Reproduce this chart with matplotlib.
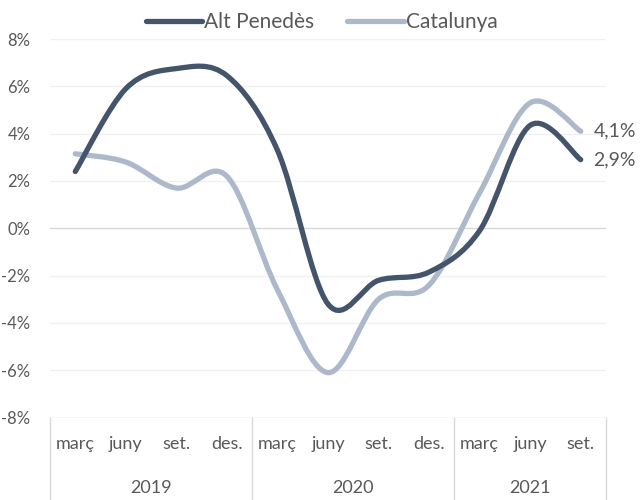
import numpy as np
import matplotlib.pyplot as plt
from matplotlib.path import Path
import matplotlib.patches as mpatches
import matplotlib.lines as mlines

# data (% change)
months = ["març", "juny", "set.", "des.", "març", "juny", "set.", "des.", "març", "juny", "set."]
years = ["2019", "2020", "2021"]
year_sizes = [4, 4, 3]
alt_penedes = [2.4, 5.9, 6.75, 6.45, 3.3, -3.2, -2.2, -1.85, -0.1, 4.35, 2.9]
catalunya = [3.15, 2.8, 1.7, 2.2, -2.6, -6.1, -3.0, -2.4, 1.5, 5.3, 4.1]
end_labels = ["2,9%", "4,1%"]

DARK = "#44546A"
LIGHT = "#ADB9CA"
TXT = "#595959"
FONT = "Lato"


def smooth_path(x, y, k=1/6):
    # Excel-like smoothed line: cubic Bezier through every point
    x = np.asarray(x, float)
    y = np.asarray(y, float)
    n = len(x)
    verts = [(x[0], y[0])]
    codes = [Path.MOVETO]
    for i in range(n - 1):
        i0 = max(i - 1, 0)
        i3 = min(i + 2, n - 1)
        c1 = (x[i] + (x[i + 1] - x[i0]) * k, y[i] + (y[i + 1] - y[i0]) * k)
        c2 = (x[i + 1] - (x[i3] - x[i]) * k, y[i + 1] - (y[i3] - y[i]) * k)
        verts += [c1, c2, (x[i + 1], y[i + 1])]
        codes += [Path.CURVE4] * 3
    return Path(verts, codes)


fig = plt.figure(figsize=(6.43, 5.0), dpi=100)
ax = fig.add_axes([50 / 643, 1 - 417.6 / 500, 556 / 643, (417.6 - 39) / 500])

xs = np.arange(len(months))
ax.set_xlim(-0.5, len(months) - 0.5)
ax.set_ylim(-8, 8)

# gridlines
for v in range(-8, 9, 2):
    ax.axhline(v, color="#D9D9D9" if v in (0, -8) else "#F0F0F0", lw=1.0, zorder=1)

for vals, col in [(catalunya, LIGHT), (alt_penedes, DARK)]:
    p = mpatches.PathPatch(smooth_path(xs, vals), fill=False, edgecolor=col,
                           lw=3.8, capstyle="round", joinstyle="round", zorder=3)
    ax.add_patch(p)

ax.set_yticks(range(-8, 9, 2))
ax.set_yticklabels([f"{v}%" for v in range(-8, 9, 2)], fontsize=12, color=TXT, family=FONT)
ax.tick_params(axis="y", length=0, pad=14)
ax.set_xticks([])
for s in ax.spines.values():
    s.set_visible(False)

# end labels
ax.text(xs[-1] + 0.25, alt_penedes[-1], end_labels[0], fontsize=14, color=TXT,
        family=FONT, va="center", ha="left")
ax.text(xs[-1] + 0.25, catalunya[-1], end_labels[1], fontsize=14, color=TXT,
        family=FONT, va="center", ha="left")

# multi-level category axis
trans = ax.get_xaxis_transform()
for i, m in enumerate(months):
    ax.text(xs[i], -0.07, m, transform=trans, ha="center", va="center",
            fontsize=13, color=TXT, family=FONT)
start = -0.5
edges = [start]
for name, size in zip(years, year_sizes):
    ax.text(start + size / 2, -0.185, name, transform=trans, ha="center", va="center",
            fontsize=13, color=TXT, family=FONT)
    start += size
    edges.append(start)
for e in edges:
    ax.add_line(mlines.Line2D([e, e], [0, -0.23], transform=trans, color="#D9D9D9",
                              lw=1.0, clip_on=False))

# legend
h1 = mlines.Line2D([], [], color=DARK, lw=3.8, solid_capstyle="round")
h2 = mlines.Line2D([], [], color=LIGHT, lw=3.8, solid_capstyle="round")
fig.legend([h1, h2], ["Alt Penedès", "Catalunya"], loc="center", bbox_to_anchor=(0.5, 0.955),
           ncol=2, frameon=False, prop={"family": FONT, "size": 15}, labelcolor=TXT,
           handlelength=2.7, handletextpad=0.1, columnspacing=1.6)

fig.savefig("out.png", dpi=100)
